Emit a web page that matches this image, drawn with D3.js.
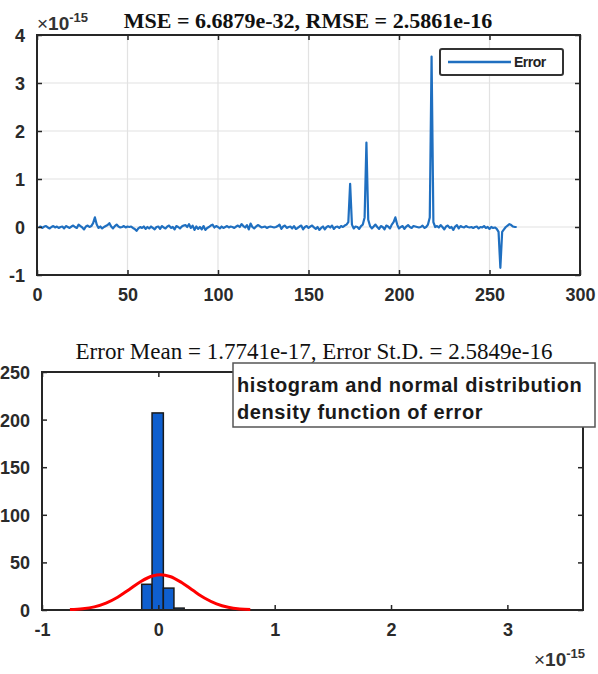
<!DOCTYPE html>
<html>
<head>
<meta charset="utf-8">
<script src="https://cdn.jsdelivr.net/npm/d3@7"></script>
<style>
  body { margin: 0; background: #fff; }
  svg { display: block; }
  .tick text { font-family: "Liberation Sans", Arial, sans-serif; font-weight: bold; font-size: 18px; fill: #2a2a2a; }
</style>
</head>
<body>
<div id="chart"></div>
<script>

// error signal, in units of 1e-15, sample 1..265
var errorValues = [
  0.00, 0.01, -0.02, 0.01, 0.02, -0.01, -0.03, 0.00, 0.02, -0.01,
  0.01, -0.02, 0.00, 0.01, -0.03, 0.02, 0.00, -0.02, 0.01, 0.03,
  0.00, -0.02, 0.05, 0.02, -0.01, -0.05, 0.01, 0.03, 0.00, 0.02,
  0.08, 0.20, 0.05, -0.02, 0.01, -0.03, 0.00, 0.02, 0.04, 0.08,
  0.01, -0.03, 0.02, 0.05, 0.01, -0.01, 0.00, 0.02, -0.01, 0.01,
  0.00, 0.01, -0.02, -0.04, -0.08, -0.03, 0.00, -0.02, 0.01, -0.04,
  0.00, -0.03, 0.01, -0.02, -0.05, 0.00, 0.01, -0.04, 0.02, -0.01,
  -0.03, 0.01, 0.03, -0.02, 0.00, -0.05, 0.02, 0.00, -0.03, 0.01,
  0.03, 0.04, 0.00, 0.06, -0.02, 0.03, -0.06, 0.01, -0.04, 0.00,
  -0.05, 0.02, -0.06, -0.02, 0.00, 0.03, 0.05, -0.01, 0.02, 0.00,
  -0.03, 0.01, -0.02, 0.00, 0.02, -0.01, 0.01, 0.00, -0.02, 0.01,
  0.03, 0.00, 0.06, 0.02, -0.01, 0.04, -0.05, 0.07, 0.00, -0.03,
  0.01, 0.04, 0.02, -0.01, 0.00, 0.01, -0.02, 0.00, 0.01, 0.00,
  -0.01, 0.00, 0.02, 0.05, -0.04, 0.01, 0.03, -0.02, 0.00, 0.01,
  -0.03, 0.02, -0.04, -0.02, 0.01, 0.03, -0.05, 0.00, 0.02, -0.02,
  0.01, 0.03, -0.01, -0.04, 0.00, -0.06, -0.02, 0.01, -0.05, 0.00,
  0.02, -0.01, 0.03, -0.04, 0.00, 0.01, -0.02, 0.02, 0.00, 0.03,
  0.05, 0.10, 0.90, 0.05, -0.03, 0.01, 0.00, -0.04, 0.02, 0.05,
  0.20, 1.76, 0.15, 0.02, -0.03, 0.01, 0.05, 0.00, -0.04, 0.02,
  0.00, -0.05, 0.03, 0.01, -0.03, 0.05, 0.10, 0.20, 0.05, -0.03,
  0.00, 0.02, -0.04, 0.01, 0.04, 0.00, -0.02, 0.02, 0.01, 0.00,
  -0.01, 0.00, 0.03, -0.02, 0.00, 0.05, 0.20, 3.55, 0.10, 0.00,
  0.02, -0.01, 0.04, 0.00, -0.05, 0.01, 0.03, -0.02, 0.00, -0.06,
  0.01, 0.04, -0.03, 0.02, 0.00, -0.01, 0.02, 0.00, -0.01, 0.00,
  -0.02, 0.00, 0.01, -0.03, 0.00, -0.01, 0.02, -0.02, 0.00, -0.04,
  0.00, -0.02, -0.01, -0.04, -0.10, -0.85, -0.10, -0.05, 0.00, 0.03,
  0.06, 0.04, 0.01, 0.00, 0.00
];

var topXTicks = [0, 50, 100, 150, 200, 250, 300];
var topYTicks = [-1, 0, 1, 2, 3, 4];

// histogram (x in units of 1e-15)
var histEdges = [-0.143, -0.054, 0.043, 0.134, 0.222];
var histCounts = [27, 207, 23, 2];

// fitted normal curve
var curveX = [-0.76, -0.65, -0.55, -0.45, -0.35, -0.25, -0.15, -0.05, 0.02, 0.10, 0.20, 0.30, 0.40, 0.50, 0.60, 0.70, 0.79];
var curveY = [0.4, 1.3, 3.3, 7.2, 13.4, 21.6, 30.0, 35.7, 37.0, 35.2, 28.9, 20.4, 12.4, 6.5, 2.9, 1.1, 0.4];

var botXTicks = [-1, 0, 1, 2, 3];
var botYTicks = [0, 50, 100, 150, 200, 250];

var topTitle = "MSE = 6.6879e-32, RMSE = 2.5861e-16";
var botTitle = "Error Mean = 1.7741e-17, Error St.D. = 2.5849e-16";
var boxLines = ["histogram and normal distribution", "density function of error"];

var W = 598, H = 674;
var axisColor = "#262626";

var svg = d3.select("#chart").append("svg")
    .attr("width", W)
    .attr("height", H);

function gridLines(g, x, y, xTicks, yTicks) {
  var x0 = x.range()[0], x1 = x.range()[1],
      y0 = y.range()[0], y1 = y.range()[1];

  g.append("g").selectAll("line").data(xTicks.slice(1, -1)).enter().append("line")
    .attr("x1", function(d) { return x(d); }).attr("x2", function(d) { return x(d); })
    .attr("y1", y0).attr("y2", y1)
    .attr("stroke", "#e2e2e2").attr("stroke-width", 1.2);
  g.append("g").selectAll("line").data(yTicks.slice(1, -1)).enter().append("line")
    .attr("y1", function(d) { return y(d); }).attr("y2", function(d) { return y(d); })
    .attr("x1", x0).attr("x2", x1)
    .attr("stroke", "#e2e2e2").attr("stroke-width", 1.2);
}

function drawFrame(g, x, y, xTicks, yTicks) {
  var x0 = x.range()[0], x1 = x.range()[1],
      y0 = y.range()[0], y1 = y.range()[1];
  var fmt = function(d) { return String(d); };   // plain hyphen minus, like MATLAB

  var bottom = g.append("g").attr("transform", "translate(0," + y0 + ")")
      .call(d3.axisBottom(x).tickValues(xTicks).tickSizeInner(-5).tickSizeOuter(0).tickPadding(13).tickFormat(fmt));
  var left = g.append("g").attr("transform", "translate(" + x0 + ",0)")
      .call(d3.axisLeft(y).tickValues(yTicks).tickSizeInner(-5).tickSizeOuter(0).tickPadding(12).tickFormat(fmt));
  var top = g.append("g").attr("transform", "translate(0," + y1 + ")")
      .call(d3.axisTop(x).tickValues(xTicks).tickSizeInner(-5).tickSizeOuter(0).tickFormat(""));
  var right = g.append("g").attr("transform", "translate(" + x1 + ",0)")
      .call(d3.axisRight(y).tickValues(yTicks).tickSizeInner(-5).tickSizeOuter(0).tickFormat(""));

  [bottom, left, top, right].forEach(function(a) {
    a.select(".domain").remove();
    a.selectAll(".tick line").attr("stroke", axisColor).attr("stroke-width", 1.5);
  });
  left.selectAll(".tick text").attr("dy", "0.36em");

  g.append("rect")
    .attr("x", x0).attr("y", y1)
    .attr("width", x1 - x0).attr("height", y0 - y1)
    .attr("fill", "none")
    .attr("stroke", axisColor)
    .attr("stroke-width", 2);
}

function expLabel(g, xPos, yPos, anchor) {
  var t = g.append("text")
    .attr("x", xPos).attr("y", yPos)
    .attr("text-anchor", anchor)
    .style("font-family", "Liberation Sans, Arial, sans-serif")
    .style("font-size", "19px")
    .style("font-weight", "bold")
    .attr("fill", "#333");
  t.append("tspan").style("font-weight", "normal").text("\u00d7");
  t.append("tspan").text("10");
  t.append("tspan").attr("dy", -8).style("font-size", "13px").text("-15");
}

// ---------- top: error signal ----------
var gTop = svg.append("g");
var xTop = d3.scaleLinear().domain([0, 300]).range([37, 580]);
var yTop = d3.scaleLinear().domain([-1, 4]).range([275, 35]);

gridLines(gTop, xTop, yTop, topXTicks, topYTicks);

var errLine = d3.line()
    .x(function(d, i) { return xTop(i + 1); })
    .y(function(d) { return yTop(d); });

gTop.append("path")
  .datum(errorValues)
  .attr("d", errLine)
  .attr("fill", "none")
  .attr("stroke", "#1f6fc0")
  .attr("stroke-width", 2.2)
  .attr("stroke-linejoin", "round");

drawFrame(gTop, xTop, yTop, topXTicks, topYTicks);

gTop.append("text")
  .attr("x", 308).attr("y", 28)
  .attr("text-anchor", "middle")
  .style("font-family", "Liberation Serif, Times New Roman, serif")
  .style("font-size", "22px")
  .style("font-weight", "bold")
  .attr("fill", "#111")
  .text(topTitle);

expLabel(gTop, 37, 30, "start");

// legend
var leg = gTop.append("g");
leg.append("rect")
  .attr("x", 440).attr("y", 49).attr("width", 123).attr("height", 26)
  .attr("rx", 2)
  .attr("fill", "#fff").attr("stroke", "#333").attr("stroke-width", 2);
leg.append("line")
  .attr("x1", 448).attr("x2", 511).attr("y1", 62).attr("y2", 62)
  .attr("stroke", "#1f6fc0").attr("stroke-width", 2.5);
leg.append("text")
  .attr("x", 514).attr("y", 67)
  .style("font-family", "Liberation Sans, Arial, sans-serif")
  .style("font-size", "14px")
  .style("font-weight", "bold")
  .style("letter-spacing", "-0.5px")
  .attr("fill", "#222")
  .text("Error");

// ---------- bottom: histogram ----------
var gBot = svg.append("g");
var xBot = d3.scaleLinear().domain([-1, 3.65]).range([42, 583]);
var yBot = d3.scaleLinear().domain([0, 250]).range([610, 372]);

var bins = histCounts.map(function(c, i) {
  return { x0: histEdges[i], x1: histEdges[i + 1], count: c };
});

gBot.append("g").selectAll("rect").data(bins).enter().append("rect")
  .attr("x", function(d) { return xBot(d.x0); })
  .attr("width", function(d) { return xBot(d.x1) - xBot(d.x0); })
  .attr("y", function(d) { return yBot(d.count); })
  .attr("height", function(d) { return yBot(0) - yBot(d.count); })
  .attr("fill", "#0f5fcf")
  .attr("stroke", "#1a1a1a")
  .attr("stroke-width", 1.5);

drawFrame(gBot, xBot, yBot, botXTicks, botYTicks);

var normLine = d3.line()
    .x(function(d, i) { return xBot(curveX[i]); })
    .y(function(d) { return yBot(d); })
    .curve(d3.curveMonotoneX);

gBot.append("path")
  .datum(curveY)
  .attr("d", normLine)
  .attr("fill", "none")
  .attr("stroke", "#ff0000")
  .attr("stroke-width", 3);

gBot.append("text")
  .attr("x", 314).attr("y", 359)
  .attr("text-anchor", "middle")
  .style("font-family", "Liberation Serif, Times New Roman, serif")
  .style("font-size", "23px")
  .attr("fill", "#111")
  .text(botTitle);

expLabel(gBot, 585, 666, "end");

// annotation box
var note = gBot.append("g");
note.append("rect")
  .attr("x", 233).attr("y", 363).attr("width", 362).attr("height", 64)
  .attr("fill", "#fff").attr("stroke", "#555").attr("stroke-width", 1.5);
note.selectAll("text").data(boxLines).enter().append("text")
  .attr("x", 237)
  .attr("y", function(d, i) { return 392 + i * 27; })
  .style("font-family", "Liberation Sans, Arial, sans-serif")
  .style("font-size", "20px")
  .style("font-weight", "bold")
  .style("letter-spacing", "0.6px")
  .attr("fill", "#1a1a1a")
  .text(function(d) { return d; });

</script>
</body>
</html>
